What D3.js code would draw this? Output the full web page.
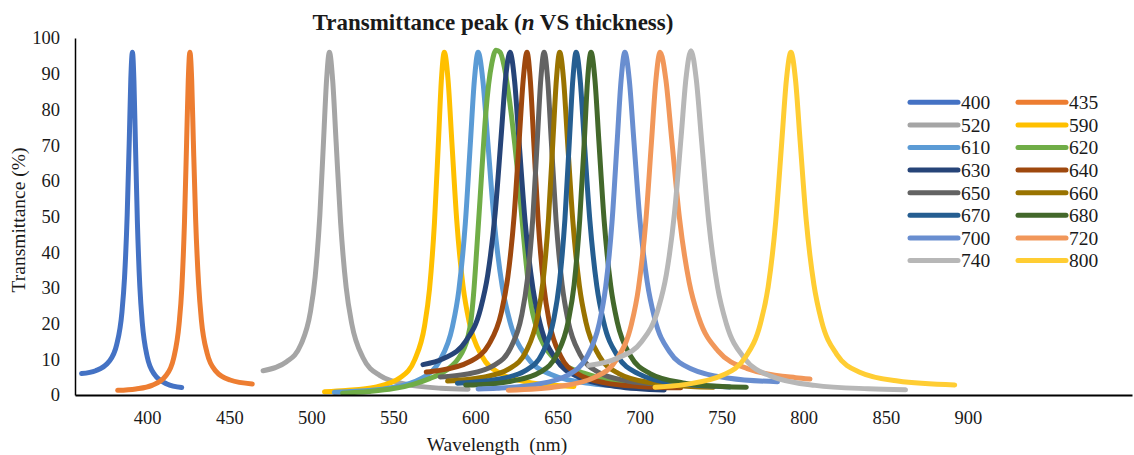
<!DOCTYPE html>
<html>
<head>
<meta charset="utf-8">
<script src="https://d3js.org/d3.v7.min.js"></script>
<style>
  body { margin: 0; background: #fff; }
  svg text { font-family: "Liberation Serif", "Times New Roman", serif; fill: #1a1a1a; }
</style>
</head>
<body>
<div id="chart"></div>
<script>
// series labels (thickness) and the colours Excel gave them
const seriesNames = ["400", "435", "520", "590", "610", "620", "630", "640",
                     "650", "660", "670", "680", "700", "720", "740", "800"];
const seriesColors = ["#4472C4", "#ED7D31", "#A5A5A5", "#FFC000", "#5B9BD5", "#70AD47", "#264478", "#9E480E",
                      "#636363", "#997300", "#255E91", "#43682B", "#698ED0", "#F1975A", "#B7B7B7", "#FFCD33"];

// [wavelength nm, transmittance %]
const t400 = [[360,6.0],[368.6,6.8],[376.6,9.3],[381.4,14.1],[384.6,23.2],[386.2,33],[387.8,50.5],[389.1,71.9],[390,88.4],[391,96],[391.9,88.1],[392.8,70.9],[394,48.6],[395.5,30.4],[397,20.2],[400,10.7],[404.5,5.7],[412,3.1],[421,2.1]];
const t435 = [[382,1.3],[393,1.7],[402.9,2.7],[411.2,5.3],[416.1,10.3],[419.4,19.8],[421.1,30.1],[422.7,48.4],[424,70.8],[425,88.1],[426,96],[427.1,88.2],[428.1,71.2],[429.5,49.2],[431.3,31.1],[433,21],[436.5,11.7],[441.8,6.7],[450.5,4.2],[464,3.1]];
const t520 = [[470.6,6.8],[484.9,9.3],[493.6,14.1],[499.4,23.2],[502.3,33],[505.2,50.5],[507.5,71.9],[509.3,88.4],[511,96],[513,88.1],[515.1,70.8],[517.8,48.5],[521.2,30.2],[524.6,20],[531.4,10.5],[541.6,5.5],[558.6,2.9],[579,1.9],[595.5,1.6]];
const t590 = [[508,0.9],[521,1.25],[539,2.2],[554,4.8],[563,9.9],[569,19.4],[572,29.7],[575,48.2],[577.4,70.6],[579.2,88.1],[581,96],[583.3,88.2],[585.6,71],[588.6,48.8],[592.4,30.6],[596.2,20.4],[603.8,11],[615.2,6],[634.2,3.4],[660,2.4]];
const t610 = [[514,0.76],[523.6,0.95],[547,1.9],[566.5,4.5],[578.2,9.6],[586,19.2],[589.9,29.5],[593.8,48],[596.9,70.6],[599.3,88],[601.6,96],[604.5,88.1],[607.5,70.9],[611.4,48.7],[616.3,30.4],[621.2,20.2],[631,10.8],[645.7,5.8],[670.2,3.2],[705,2.1]];
const t620 = [[519,0.5],[535,1.0],[550,1.8],[562,3.0],[572,4.6],[580,6.3],[586,8.3],[590,10.5],[593,13],[595.5,16.5],[597.3,21],[598.8,28],[600.8,41],[602.8,55],[604.6,68],[606.3,79],[608,87],[610,93],[612.5,96.6],[615,96],[617.5,92],[620,85],[622,78],[624,70],[626,61],[628,51],[630,41],[632,32],[634,25],[636.5,20],[639.5,16],[644,12.3],[649,9.8],[657,7.6],[667,6.0],[685,4.0],[705,2.8],[720,2.2]];
const t630 = [[568,8.5],[580.5,10.2],[594,15],[603,24],[607.5,33.7],[612,51],[615.6,72.2],[618.3,88.5],[621,96],[623.8,88.1],[626.6,70.7],[630.3,48.3],[635,29.9],[639.6,19.6],[648.9,10.1],[662.9,5],[686.1,2.4],[715,1.4]];
const t640 = [[570,6.45],[576.8,6.8],[596.3,9.3],[608,14.1],[615.8,23.2],[619.7,33],[623.6,50.5],[626.7,71.9],[629.1,88.4],[631.4,96],[633.4,88.2],[635.5,71],[638.2,48.8],[641.6,30.6],[645,20.4],[651.8,11],[662,6],[679,3.4],[699.4,2.4],[725,2.0]];
const t650 = [[578.5,5.05],[594.2,5.8],[611.2,8.3],[621.4,13.2],[628.2,22.4],[631.6,32.3],[635,50],[637.7,71.6],[639.8,88.4],[641.8,96],[644,88.2],[646.2,71.1],[649.1,49],[652.8,30.9],[656.4,20.8],[663.7,11.4],[674.7,6.4],[692.9,3.9],[714.8,2.9],[735,2.6]];
const t660 = [[583,3.9],[603.7,4.9],[620.7,7.4],[630.9,12.3],[637.7,21.6],[641.1,31.6],[644.5,49.5],[647.2,71.4],[649.3,88.3],[651.3,96],[653.7,88.2],[656.1,71],[659.3,48.8],[663.3,30.6],[667.3,20.4],[675.3,11],[687.3,6],[707.3,3.4],[731.3,2.4],[745,2.2]];
const t670 = [[589,3.3],[613.7,4.4],[630.7,6.9],[640.9,11.85],[647.7,21.2],[651.1,31.3],[654.5,49.25],[657.2,71.2],[659.3,88.2],[661.3,96],[663.8,88.2],[666.3,71],[669.7,48.8],[673.9,30.6],[678.1,20.4],[686.5,11],[699.1,6],[720.1,3.4],[755,2.25]];
const t680 = [[594,2.8],[601.4,2.9],[622.1,3.9],[639.4,6.4],[649.7,11.4],[656.6,20.8],[660.1,30.9],[663.5,49],[666.3,71.1],[668.3,88.2],[670.4,96],[672.8,88.2],[675.2,71],[678.4,48.8],[682.4,30.6],[686.4,20.4],[694.4,11],[706.4,6],[726.4,3.4],[750.4,2.4],[765,2.2]];
const t700 = [[601.6,1.7],[613,1.9],[636.4,2.9],[655.9,5.5],[667.6,10.5],[675.4,20],[679.3,30.2],[683.2,48.5],[686.3,70.8],[688.7,88.1],[691,96],[693.7,88.3],[696.5,71.3],[700.1,49.4],[704.7,31.5],[709.2,21.4],[718.3,12.1],[732,7.2],[754.7,4.7],[784,3.7]];
const t720 = [[620,1.36],[650.9,2.4],[672.9,5],[686.1,10.05],[694.9,19.6],[699.3,29.9],[703.7,48.25],[707.2,70.7],[709.9,88.1],[712.5,96],[716,88.3],[719.6,71.4],[724.3,49.5],[730.2,31.6],[736.1,21.6],[747.9,12.3],[765.6,7.4],[795.1,4.86],[803.8,4.5]];
const t740 = [[669,8.3],[686.3,10.3],[701.3,15],[711.3,24.1],[716.3,33.8],[721.3,51.2],[725.3,72.4],[728.3,88.9],[731.3,96.4],[734.5,88.5],[737.8,71.1],[742.1,48.6],[747.5,30.2],[752.9,19.9],[763.7,10.4],[779.9,5.3],[806.9,2.7],[839.3,1.75],[862,1.45]];
const t800 = [[709.4,2.2],[727.1,2.9],[750.4,5.5],[764.3,10.5],[773.6,20],[778.3,30.2],[782.9,48.5],[786.6,70.8],[789.4,88.1],[792.2,96],[795,88.2],[797.8,71.1],[801.5,49],[806.2,30.9],[810.8,20.8],[820.1,11.4],[834.1,6.4],[857.3,3.9],[892,2.8]];

const seriesData = [t400, t435, t520, t590, t610, t620, t630, t640,
                    t650, t660, t670, t680, t700, t720, t740, t800];

const xTicks = [400, 450, 500, 550, 600, 650, 700, 750, 800, 850, 900];
const yTicks = [0, 10, 20, 30, 40, 50, 60, 70, 80, 90, 100];

const width = 1134, height = 455;
const plotLeft = 75, plotBottom = 395, plotTop = 38;

const x = d3.scaleLinear().domain([356, 1000]).range([plotLeft, 1132]);
const y = d3.scaleLinear().domain([0, 100]).range([plotBottom, plotTop]);

const svg = d3.select("#chart").append("svg")
  .attr("width", width)
  .attr("height", height)
  .style("display", "block")
  .style("background", "#fff");

// curves first, later series end up on top like in Excel
const line = d3.line()
  .x(d => x(d[0]))
  .y(d => y(d[1]))
  .curve(d3.curveMonotoneX);

seriesData.forEach(function(d, i){
  svg.append("path")
    .datum(d)
    .attr("d", line)
    .attr("fill", "none")
    .attr("stroke", seriesColors[i])
    .attr("stroke-width", 5)
    .attr("stroke-linecap", "round")
    .attr("stroke-linejoin", "round");
});

// axes, no tick marks
const xAxis = svg.append("g")
  .attr("transform", `translate(0,${plotBottom})`)
  .call(d3.axisBottom(x).tickValues(xTicks).tickSize(0).tickPadding(16).tickFormat(d3.format("d")));
xAxis.select(".domain").attr("stroke", "#000").attr("stroke-width", 2);
xAxis.selectAll("text").style("font-size", "18.5px").attr("fill", "#1a1a1a");

const yAxis = svg.append("g")
  .attr("transform", `translate(${plotLeft},0)`)
  .call(d3.axisLeft(y).tickValues(yTicks).tickSize(0).tickPadding(15).tickFormat(d3.format("d")));
yAxis.select(".domain").attr("stroke", "#000").attr("stroke-width", 1.5);
yAxis.selectAll("text").style("font-size", "18.5px").attr("fill", "#1a1a1a");

// title
const title = svg.append("text")
  .attr("x", 493)
  .attr("y", 30)
  .attr("text-anchor", "middle")
  .style("font-size", "23px")
  .style("font-weight", "bold");
title.append("tspan").text("Transmittance peak (");
title.append("tspan").style("font-style", "italic").text("n");
title.append("tspan").text(" VS thickness)");

// axis titles
svg.append("text")
  .attr("x", 497)
  .attr("y", 451)
  .attr("text-anchor", "middle")
  .style("font-size", "19.5px")
  .style("word-spacing", "5px")
  .text("Wavelength (nm)");

svg.append("text")
  .attr("transform", "translate(25,220) rotate(-90)")
  .attr("text-anchor", "middle")
  .style("font-size", "19.5px")
  .text("Transmittance (%)");

// legend, two columns
const legend = svg.append("g");
seriesNames.forEach(function(name, i){
  const lx = i % 2 == 0 ? 910 : 1018;
  const ly = 102.3 + Math.floor(i / 2) * 22.6;
  legend.append("line")
    .attr("x1", lx).attr("x2", lx + 48)
    .attr("y1", ly).attr("y2", ly)
    .attr("stroke", seriesColors[i])
    .attr("stroke-width", 5)
    .attr("stroke-linecap", "round");
  legend.append("text")
    .attr("x", lx + 51)
    .attr("y", ly)
    .attr("dy", "0.35em")
    .style("font-size", "19.5px")
    .text(name);
});
</script>
</body>
</html>
